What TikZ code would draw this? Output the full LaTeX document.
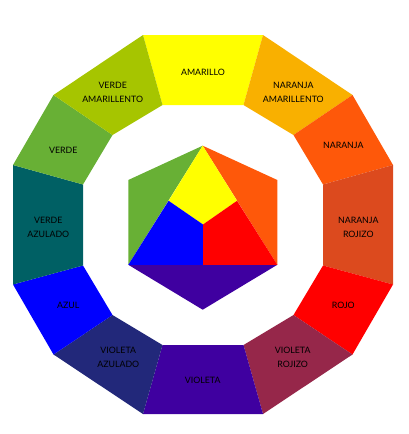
\documentclass[tikz,border=0pt]{standalone}
\usepackage{fontspec}
\setmainfont{Lato}
\definecolor{cAmarillo}{HTML}{FFFF00}
\definecolor{cNarAm}{HTML}{F9B000}
\definecolor{cNaranja}{HTML}{FE580A}
\definecolor{cNarRo}{HTML}{DC4A1E}
\definecolor{cRojo}{HTML}{FF0000}
\definecolor{cVioRo}{HTML}{96274A}
\definecolor{cVioleta}{HTML}{3F00A0}
\definecolor{cVioAz}{HTML}{22287A}
\definecolor{cAzul}{HTML}{0000FF}
\definecolor{cVerAz}{HTML}{006064}
\definecolor{cVerde}{HTML}{68B035}
\definecolor{cVerAm}{HTML}{A6C500}
\tikzset{
  lbl/.style={font=\fontsize{8.8}{14}\selectfont, text=black, align=center, inner sep=0pt},
  seg/.style={draw=none}
}
\begin{document}
\begin{tikzpicture}[x=1pt,y=-1pt]
\useasboundingbox (0,0) rectangle (408,434);
% outer vertices
\coordinate (O0) at (143,35);
\coordinate (O1) at (263,35);
\coordinate (O2) at (352.5,95);
\coordinate (O3) at (393,165);
\coordinate (O4) at (393,284.5);
\coordinate (O5) at (352.5,354.5);
\coordinate (O6) at (263,414);
\coordinate (O7) at (143,414);
\coordinate (O8) at (53.5,354.5);
\coordinate (O9) at (13,284.5);
\coordinate (O10) at (13,165);
\coordinate (O11) at (53.5,95);
% inner vertices
\coordinate (I0) at (162.5,105);
\coordinate (I1) at (243.5,105);
\coordinate (I2) at (293.5,135);
\coordinate (I3) at (323,184.5);
\coordinate (I4) at (323,265.5);
\coordinate (I5) at (293.5,315);
\coordinate (I6) at (243.5,345);
\coordinate (I7) at (162.5,345);
\coordinate (I8) at (112.5,315);
\coordinate (I9) at (83,265.5);
\coordinate (I10) at (83,184.5);
\coordinate (I11) at (112.5,135);
% ring segments
\fill[cAmarillo] (O0)--(O1)--(I1)--(I0)--cycle;
\fill[cNarAm] (O1)--(O2)--(I2)--(I1)--cycle;
\fill[cNaranja] (O2)--(O3)--(I3)--(I2)--cycle;
\fill[cNarRo] (O3)--(O4)--(I4)--(I3)--cycle;
\fill[cRojo] (O4)--(O5)--(I5)--(I4)--cycle;
\fill[cVioRo] (O5)--(O6)--(I6)--(I5)--cycle;
\fill[cVioleta] (O6)--(O7)--(I7)--(I6)--cycle;
\fill[cVioAz] (O7)--(O8)--(I8)--(I7)--cycle;
\fill[cAzul] (O8)--(O9)--(I9)--(I8)--cycle;
\fill[cVerAz] (O9)--(O10)--(I10)--(I9)--cycle;
\fill[cVerde] (O10)--(O11)--(I11)--(I10)--cycle;
\fill[cVerAm] (O11)--(O0)--(I0)--(I11)--cycle;
% central hexagon
\coordinate (HT) at (202.7,145.7);
\coordinate (HUL) at (128.3,180);
\coordinate (HLL) at (128.3,264.8);
\coordinate (HB) at (202.7,309.7);
\coordinate (HLR) at (277.3,264.8);
\coordinate (HUR) at (277.3,180);
\coordinate (TL) at (168.6,200.8);
\coordinate (TR) at (237,200.8);
\coordinate (TC) at (203,224.5);
\coordinate (TM) at (203,264.8);
\fill[cVerde] (HT)--(HUL)--(HLL)--cycle;
\fill[cNaranja] (HT)--(HUR)--(HLR)--cycle;
\fill[cVioleta] (HLL)--(HB)--(HLR)--cycle;
\fill[cAmarillo] (HT)--(TR)--(TC)--(TL)--cycle;
\fill[cAzul] (TL)--(TC)--(TM)--(HLL)--cycle;
\fill[cRojo] (TC)--(TR)--(HLR)--(TM)--cycle;
% labels
\node[lbl] (lAmarillo) at (203,72) {AMARILLO};
\node[lbl] (lNarAm) at (293.3,92.5) {NARANJA\\AMARILLENTO};
\node[lbl] (lNaranja) at (343.3,145.7) {NARANJA};
\node[lbl] (lNarRo) at (358.3,227.7) {NARANJA\\ROJIZO};
\node[lbl] (lRojo) at (343.3,305.7) {ROJO};
\node[lbl] (lVioRo) at (292.7,357.7) {VIOLETA\\ROJIZO};
\node[lbl] (lVioleta) at (202.7,380.7) {VIOLETA};
\node[lbl] (lVioAz) at (118.3,357.7) {VIOLETA\\AZULADO};
\node[lbl] (lAzul) at (68.3,305.7) {AZUL};
\node[lbl] (lVerAz) at (48.3,227.7) {VERDE\\AZULADO};
\node[lbl] (lVerde) at (63.3,150.7) {VERDE};
\node[lbl] (lVerAm) at (112.7,92.5) {VERDE\\AMARILLENTO};
\end{tikzpicture}
\end{document}
